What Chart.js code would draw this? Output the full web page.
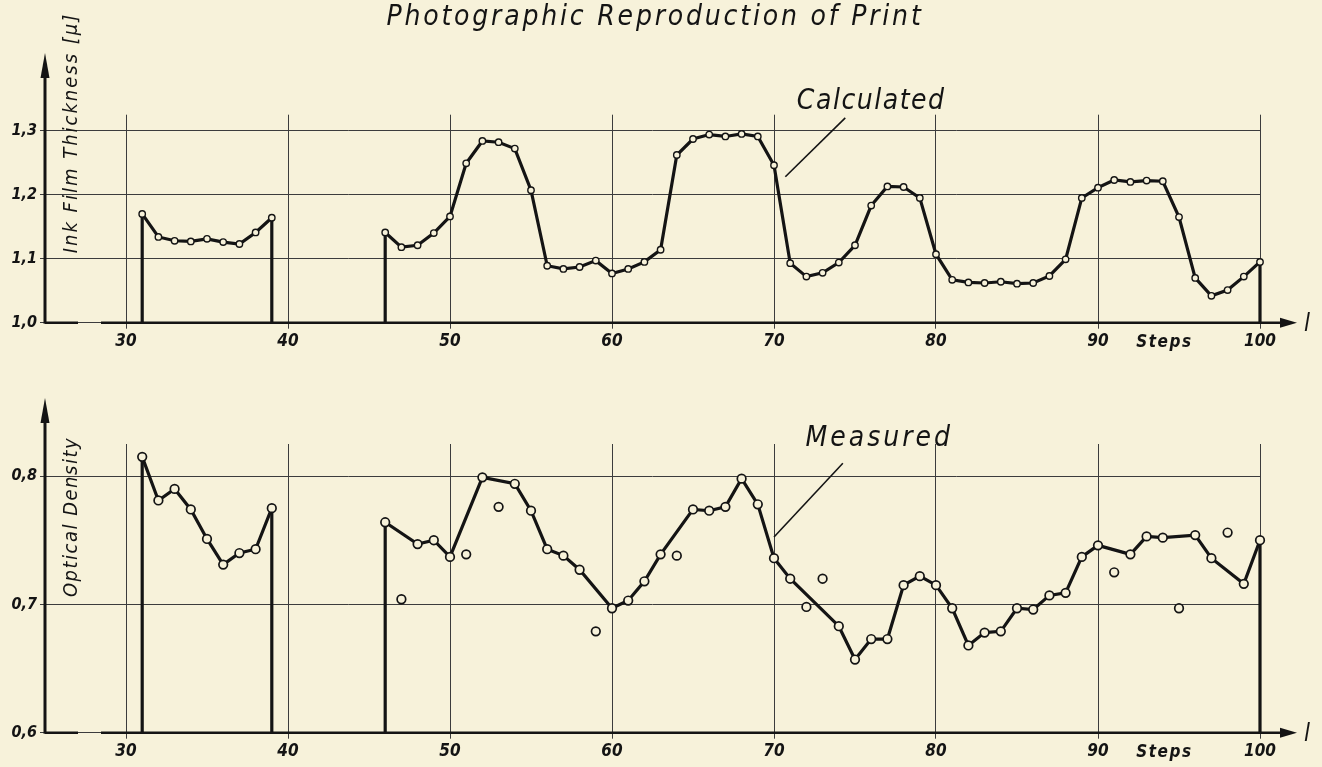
<!DOCTYPE html>
<html>
<head>
<meta charset="utf-8">
<script src="https://cdn.jsdelivr.net/npm/chart.js@4.4.1/dist/chart.umd.min.js"></script>
<style>
    body { margin: 0; background: #f7f2da; width: 1322px; height: 767px; overflow: hidden; position: relative; }
    canvas { position: absolute; left: 0; }
    #topChart { top: 0; }
    #bottomChart { top: 365px; }
</style>
</head>
<body>
<canvas id="topChart" width="1322" height="365"></canvas>
<canvas id="bottomChart" width="1322" height="402"></canvas>
<script>
// --- DATA ---
const xTicks = [30, 40, 50, 60, 70, 80, 90, 100];
const stepsLeft = [31, 32, 33, 34, 35, 36, 37, 38, 39];
const stepsRight = [46, 47, 48, 49, 50, 51, 52, 53, 54, 55,
    56, 57, 58, 59, 60, 61, 62, 63, 64, 65,
    66, 67, 68, 69, 70, 71, 72, 73, 74, 75,
    76, 77, 78, 79, 80, 81, 82, 83, 84, 85,
    86, 87, 88, 89, 90, 91, 92, 93, 94, 95,
    96, 97, 98, 99, 100];

// Calculated ink film thickness [µ]
const calcLeft = [1.170, 1.134, 1.128, 1.127, 1.131, 1.126, 1.123, 1.141, 1.164];
const calcRight = [1.141, 1.118, 1.121, 1.140, 1.166, 1.249, 1.284, 1.282, 1.272, 1.207,
    1.089, 1.084, 1.087, 1.097, 1.077, 1.084, 1.095, 1.114, 1.262, 1.287,
    1.294, 1.291, 1.295, 1.291, 1.246, 1.093, 1.072, 1.078, 1.094, 1.121,
    1.183, 1.213, 1.212, 1.195, 1.107, 1.067, 1.063, 1.062, 1.064, 1.061,
    1.062, 1.073, 1.099, 1.195, 1.211, 1.223, 1.220, 1.222, 1.221, 1.165,
    1.070, 1.042, 1.051, 1.072, 1.095];
const calcYTicks = [1.0, 1.1, 1.2, 1.3];

// Measured optical density (null = step not on the drawn curve)
const measLeft = [0.815, 0.781, 0.790, 0.774, 0.751, 0.731, 0.740, 0.743, 0.775];
const measRight = [0.764, null, 0.747, 0.750, 0.737, null, 0.799, null, 0.794, 0.773,
    0.743, 0.738, 0.727, null, 0.697, 0.703, 0.718, 0.739, null, 0.774,
    0.773, 0.776, 0.798, 0.778, 0.736, 0.720, null, null, 0.683, 0.657,
    0.673, 0.673, 0.715, 0.722, 0.715, 0.697, 0.668, 0.678, 0.679, 0.697,
    0.696, 0.707, 0.709, 0.737, 0.746, null, 0.739, 0.753, 0.752, null,
    0.754, 0.736, null, 0.716, 0.750];
const outlierSteps = [47, 51, 53, 59, 64, 72, 73, 91, 95, 98];
const outlierValues = [0.704, 0.739, 0.776, 0.679, 0.738, 0.698, 0.720, 0.725, 0.697, 0.756];
const measYTicks = [0.6, 0.7, 0.8];

// --- STYLE ---
const INK = '#141414';
const PAPER = '#f7f2da';
const GRID = '#3c3c3c';
const FONT = '"DejaVu Sans Condensed", "DejaVu Sans", sans-serif';

// --- HELPERS ---
const toPoints = (steps, vals) => steps.map((s, i) => ({ x: s, y: vals[i] })).filter(p => p.y !== null);
const commaFmt = (v) => v.toFixed(1).replace('.', ',');

function buildDrops(segments, base) {
    const out = [];
    segments.forEach(pts => {
        [pts[0], pts[pts.length - 1]].forEach(p => {
            out.push({ x: p.x, y: base }, { x: p.x, y: p.y }, { x: p.x, y: null });
        });
    });
    return out;
}

// draws the arrow axes, labels and the leader note
const panelDecor = {
    id: 'panelDecor',
    beforeDatasetsDraw(chart, args, o) {
        const { ctx, chartArea: a } = chart;
        ctx.save();
        ctx.strokeStyle = INK;
        ctx.fillStyle = INK;
        // y axis + arrow
        ctx.lineWidth = 3;
        ctx.beginPath();
        ctx.moveTo(a.left, a.bottom + 1);
        ctx.lineTo(a.left, o.arrowTip + 18);
        ctx.stroke();
        ctx.beginPath();
        ctx.moveTo(a.left, o.arrowTip);
        ctx.lineTo(a.left - 4.5, o.arrowTip + 25);
        ctx.lineTo(a.left + 4.5, o.arrowTip + 25);
        ctx.closePath();
        ctx.fill();
        // x axis (with the small break of the original) + arrow
        ctx.lineWidth = 2.5;
        ctx.beginPath();
        ctx.moveTo(a.left, a.bottom);
        ctx.lineTo(a.left + 33, a.bottom);
        ctx.moveTo(a.left + 56, a.bottom);
        ctx.lineTo(a.right + 24, a.bottom);
        ctx.stroke();
        ctx.beginPath();
        ctx.moveTo(a.right + 37, a.bottom);
        ctx.lineTo(a.right + 20, a.bottom - 5);
        ctx.lineTo(a.right + 20, a.bottom + 5);
        ctx.closePath();
        ctx.fill();
        ctx.restore();
    },
    afterDraw(chart, args, o) {
        const { ctx, chartArea: a, scales: { x, y } } = chart;
        ctx.save();
        ctx.fillStyle = INK;
        ctx.strokeStyle = INK;
        ctx.textAlign = 'center';
        ctx.textBaseline = 'middle';

        if (o.title) {
            ctx.font = 'italic 28px ' + FONT;
            ctx.letterSpacing = '2.8px';
            ctx.fillText(o.title, 655, 18);
        }

        // y title, rotated, inside the panel
        ctx.save();
        ctx.translate(72, o.yTitleY);
        ctx.rotate(-Math.PI / 2);
        ctx.font = 'italic 20px ' + FONT;
        ctx.letterSpacing = o.yTitleSpacing;
        ctx.fillText(o.yTitle, 0, 0);
        ctx.restore();

        // "Steps" and "l" on the x axis
        ctx.font = 'italic 600 17px ' + FONT;
        ctx.letterSpacing = '1.5px';
        ctx.fillText('Steps', x.getPixelForValue(94.1), a.bottom + 20);
        ctx.letterSpacing = '0px';
        ctx.font = 'italic 24px ' + FONT;
        ctx.fillText('l', a.right + 47, a.bottom + 2);

        // leader note
        const n = o.note;
        ctx.font = 'italic 28px ' + FONT;
        ctx.letterSpacing = n.spacing;
        ctx.fillText(n.text, x.getPixelForValue(n.tx), y.getPixelForValue(n.ty));
        ctx.lineWidth = 1.6;
        ctx.beginPath();
        ctx.moveTo(x.getPixelForValue(n.from[0]), y.getPixelForValue(n.from[1]));
        ctx.lineTo(x.getPixelForValue(n.to[0]), y.getPixelForValue(n.to[1]));
        ctx.stroke();
        ctx.restore();
    }
};

function buildPanel(canvasId, p) {
    const left = toPoints(stepsLeft, p.left);
    const right = toPoints(stepsRight, p.right);
    const lineData = [...left, { x: 42, y: null }, ...right];
    const datasets = [
        {
            label: p.label,
            data: lineData,
            borderColor: INK,
            borderWidth: 3.2,
            pointRadius: p.pointRadius,
            pointBorderWidth: p.pointBorder,
            pointBackgroundColor: PAPER,
            pointBorderColor: INK,
            spanGaps: false,
            tension: 0
        },
        {
            label: 'drops',
            data: buildDrops([left, right], p.yMin),
            borderColor: INK,
            borderWidth: 3.2,
            pointRadius: 0,
            spanGaps: false
        }
    ];
    if (p.outSteps) {
        datasets.splice(1, 0, {
            label: 'off-curve',
            data: p.outSteps.map((s, i) => ({ x: s, y: p.outValues[i] })),
            showLine: false,
            pointRadius: p.pointRadius,
            pointBorderWidth: p.pointBorder,
            pointBackgroundColor: PAPER,
            pointBorderColor: INK
        });
    }

    return new Chart(document.getElementById(canvasId), {
        type: 'line',
        data: { datasets },
        options: {
            responsive: false,
            animation: false,
            devicePixelRatio: 1,
            clip: false,
            layout: { padding: { top: p.padTop, right: 62, left: 0, bottom: 0 } },
            scales: {
                x: {
                    type: 'linear',
                    min: 25,
                    max: 100,
                    afterBuildTicks: (s) => { s.ticks = xTicks.map(v => ({ value: v })); },
                    afterFit: (s) => { s.height = p.xAxisH; },
                    ticks: {
                        autoSkip: false,
                        maxRotation: 0,
                        padding: 3,
                        color: INK,
                        font: { family: FONT, size: 17, style: 'italic', weight: '600' },
                        callback: (v) => String(v)
                    },
                    grid: { color: GRID, lineWidth: 1, tickLength: 6 },
                    border: { display: false }
                },
                y: {
                    type: 'linear',
                    min: p.yMin,
                    max: p.yMax,
                    afterBuildTicks: (s) => { s.ticks = p.yTicks.map(v => ({ value: v })); },
                    afterFit: (s) => { s.width = 45; },
                    ticks: {
                        padding: 3,
                        color: INK,
                        font: { family: FONT, size: 16, style: 'italic', weight: '600' },
                        callback: commaFmt
                    },
                    grid: { color: GRID, lineWidth: 1, tickLength: 5 },
                    border: { display: false }
                }
            },
            plugins: {
                legend: { display: false },
                tooltip: { enabled: false },
                panelDecor: {
                    title: p.title,
                    yTitle: p.yTitle,
                    yTitleY: p.yTitleY,
                    yTitleSpacing: p.yTitleSpacing,
                    arrowTip: p.arrowTip,
                    note: p.note
                }
            }
        },
        plugins: [panelDecor]
    });
}

buildPanel('topChart', {
    label: 'Calculated',
    left: calcLeft,
    right: calcRight,
    yMin: 1.0,
    yMax: 1.325,
    yTicks: calcYTicks,
    padTop: 114.7,
    xAxisH: 42.3,
    pointRadius: 3.2,
    pointBorder: 1.4,
    title: 'Photographic Reproduction of Print',
    yTitle: 'Ink Film Thickness [\u03bc]',
    yTitleY: 133,
    yTitleSpacing: '2px',
    arrowTip: 53,
    note: { text: 'Calculated', spacing: '1.5px', tx: 76.0, ty: 1.345, from: [74.4, 1.32], to: [70.7, 1.228] }
});

buildPanel('bottomChart', {
    label: 'Measured',
    left: measLeft,
    right: measRight,
    outSteps: outlierSteps,
    outValues: outlierValues,
    yMin: 0.6,
    yMax: 0.825,
    yTicks: measYTicks,
    padTop: 79,
    xAxisH: 34.3,
    pointRadius: 4.3,
    pointBorder: 1.7,
    yTitle: 'Optical Density',
    yTitleY: 152,
    yTitleSpacing: '1.5px',
    arrowTip: 33,
    note: { text: 'Measured', spacing: '3px', tx: 76.5, ty: 0.829, from: [74.25, 0.81], to: [70.0, 0.7525] }
});
</script>
</body>
</html>
